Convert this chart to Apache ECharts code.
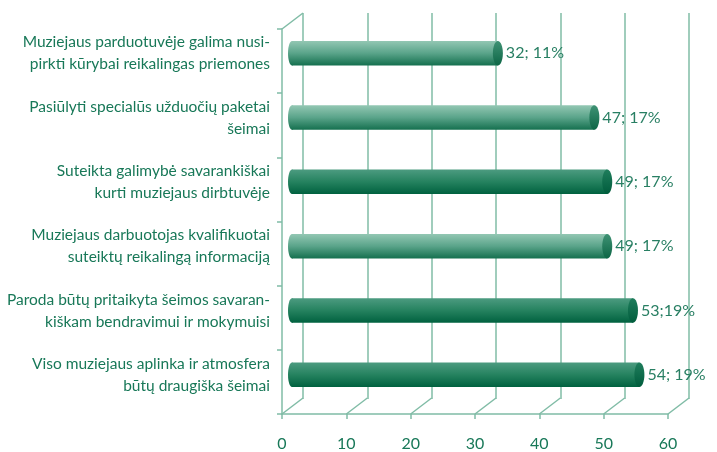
<!DOCTYPE html>
<html>
<head>
<meta charset="utf-8">
<script src="https://cdn.jsdelivr.net/npm/echarts@6/dist/echarts.min.js"></script>
<style>html,body{margin:0;background:#fff}#chart{width:717px;height:452px}</style>
</head>
<body>
<div id="chart"></div>
<script>
const categories = [
  'Muziejaus parduotuvėje galima nusi-\npirkti kūrybai reikalingas priemones',
  'Pasiūlyti specialūs užduočių paketai\nšeimai',
  'Suteikta galimybė savarankiškai\nkurti muziejaus dirbtuvėje',
  'Muziejaus darbuotojas kvalifikuotai\nsuteiktų reikalingą informaciją',
  'Paroda būtų pritaikyta šeimos savaran-\nkiškam bendravimui ir mokymuisi',
  'Viso muziejaus aplinka ir atmosfera\nbūtų draugiška šeimai'
]
const values = [32, 47, 49, 49, 53, 54]
const valueLabels = ['32; 11%', '47; 17%', '49; 17%', '49; 17%', '53;19%', '54; 19%']
const xTicks = [0, 10, 20, 30, 40, 50, 60]

const LINE = '#80bca6', TEXT = '#187858', FONT = 'Lato'
const front = { left: 282, top: 29, width: 386, height: 386 }
const mid = { left: 292, top: 21, width: 386, height: 386 }
const back = { left: 303, top: 13, width: 386, height: 386 }
const dx = back.left - front.left, dy = front.top - back.top
const darkRows = [2, 4, 5]

const grad = (stops) => new echarts.graphic.LinearGradient(0, 0, 0, 1, stops.map((c, k) => ({ offset: k / (stops.length - 1), color: c })))
const bodyFill = (dark) => dark ? grad(['#4c9b80', '#25825f', '#00613f']) : grad(['#93c7b3', '#5aa48a', '#15704f'])
const capFill = (dark) => dark ? grad(['#1f7d5c', '#005c3c']) : grad(['#3f9274', '#0d6646'])

const valueAxis = (gridIndex, show) => ({
  type: 'value', gridIndex, min: 0, max: 60, interval: 10,
  axisLine: { show: show, lineStyle: { color: LINE, width: 1.5 } },
  axisTick: { show: show, length: 5, lineStyle: { color: LINE, width: 1.5 } },
  axisLabel: { show: show, margin: 22, color: TEXT, fontFamily: FONT, fontSize: 16 },
  splitLine: { show: gridIndex === 0, lineStyle: { color: LINE, width: 1.5 } }
})
const catAxis = (gridIndex, extra) => Object.assign({
  type: 'category', gridIndex, data: categories, inverse: true,
  axisLine: { show: false }, axisTick: { show: false }, axisLabel: { show: false }, splitLine: { show: false }
}, extra)

const chart = echarts.init(document.getElementById('chart'), null, { renderer: 'canvas' })
chart.setOption({
  animation: false,
  grid: [back, mid, front],
  xAxis: [valueAxis(0, false), Object.assign(valueAxis(1, false), { show: false }), valueAxis(2, true)],
  yAxis: [
    catAxis(0),
    catAxis(1, { axisLabel: { show: true, margin: 22, color: TEXT, fontFamily: FONT, fontSize: 15.5, lineHeight: 22, align: 'right' } }),
    catAxis(2, {
      axisLine: { show: true, lineStyle: { color: LINE, width: 1.5 } },
      axisTick: { show: true, length: 5, lineStyle: { color: LINE, width: 1.5 } }
    })
  ],
  series: [
    {
      // floor diagonals and the top-left edge of the box
      type: 'custom', xAxisIndex: 2, yAxisIndex: 2, silent: true, z: 1,
      data: xTicks.map(v => [v, 0]),
      renderItem(params, api) {
        const cs = params.coordSys
        const x = api.coord([api.value(0), 0])[0]
        const bottom = cs.y + cs.height
        const style = { stroke: LINE, lineWidth: 1.5 }
        const children = [{ type: 'line', shape: { x1: x, y1: bottom, x2: x + dx, y2: bottom - dy }, style }]
        if (params.dataIndex === 0) {
          children.push({ type: 'line', shape: { x1: cs.x, y1: cs.y, x2: cs.x + dx, y2: cs.y - dy }, style })
        }
        return { type: 'group', children }
      }
    },
    {
      type: 'custom', xAxisIndex: 1, yAxisIndex: 1, z: 3,
      data: values.map((v, i) => [v, i]),
      encode: { x: 0, y: 1 },
      renderItem(params, api) {
        const i = params.dataIndex
        const start = api.coord([0, i]), end = api.coord([api.value(0), i])
        const h = api.size([0, 1])[1] * 0.38
        const dark = darkRows.includes(i)
        return {
          type: 'group', children: [
            { type: 'ellipse', shape: { cx: start[0], cy: start[1], rx: 4, ry: h / 2 }, style: { fill: bodyFill(dark) } },
            { type: 'rect', shape: { x: start[0], y: start[1] - h / 2, width: end[0] - start[0], height: h }, style: { fill: bodyFill(dark) } },
            { type: 'ellipse', shape: { cx: end[0], cy: end[1], rx: 5, ry: h / 2 }, style: { fill: capFill(dark) } },
            { type: 'text', style: { text: valueLabels[i], x: end[0] + 8, y: end[1], verticalAlign: 'middle', fill: '#287f63', font: '16px ' + FONT } }
          ]
        }
      }
    }
  ]
})
</script>
</body>
</html>
